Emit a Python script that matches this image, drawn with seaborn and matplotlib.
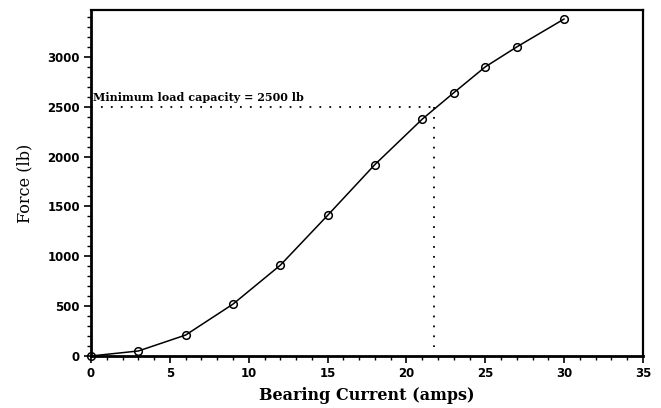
import matplotlib
matplotlib.use("Agg")
import matplotlib.pyplot as plt
import seaborn as sns
import pandas as pd
from matplotlib.ticker import MultipleLocator

current_amps = [0, 3, 6, 9, 12, 15, 18, 21, 23, 25, 27, 30]
force_lb = [0, 50, 210, 520, 910, 1410, 1920, 2375, 2640, 2900, 3100, 3380]
min_load = 2500
crossing_amps = 21.77
annotation = "Minimum load capacity = 2500 lb"

sns.set_theme(style="ticks")
plt.rcParams['font.family'] = ['DejaVu Serif']
plt.rcParams['text.color'] = 'black'
plt.rcParams['axes.labelcolor'] = 'black'
plt.rcParams['xtick.color'] = 'black'
plt.rcParams['ytick.color'] = 'black'

df = pd.DataFrame({"Bearing Current (amps)": current_amps, "Force (lb)": force_lb})

fig = plt.figure(figsize=(6.61, 4.08), dpi=100)
ax = fig.add_axes([0.1377, 0.1275, 0.9728 - 0.1377, 0.9755 - 0.1275])

sns.lineplot(data=df, x="Bearing Current (amps)", y="Force (lb)", ax=ax,
             color="black", linewidth=1.1, marker="o", markersize=5.5,
             markerfacecolor="none", markeredgecolor="black", markeredgewidth=1.1,
             clip_on=False, zorder=5)

ax.plot([0, crossing_amps], [min_load, min_load], linestyle=(0, (1, 4.5)), color="black", linewidth=1.3)
ax.plot([crossing_amps, crossing_amps], [min_load, 90], linestyle=(0, (1, 4.5)), color="black", linewidth=1.3)
ax.text(0.1, 2540, annotation, fontsize=8, fontweight="bold", ha="left", va="bottom",
        family="DejaVu Serif", color="black")

ax.set_xlim(0, 35)
ax.set_ylim(0, 3470)
ax.xaxis.set_major_locator(MultipleLocator(5))
ax.xaxis.set_minor_locator(MultipleLocator(1))
ax.yaxis.set_major_locator(MultipleLocator(500))
ax.yaxis.set_minor_locator(MultipleLocator(100))
ax.tick_params(which="major", length=5, width=1.2, color="black", labelsize=8.5, pad=3,
               labelcolor="black")
ax.tick_params(which="minor", length=3, width=1.0, color="black")
for lab in ax.get_xticklabels() + ax.get_yticklabels():
    lab.set_fontweight("bold")
    lab.set_family("DejaVu Sans")

for s in ["left", "bottom"]:
    ax.spines[s].set_linewidth(2.0)
for s in ["top", "right"]:
    ax.spines[s].set_linewidth(1.6)
for s in ax.spines.values():
    s.set_color("black")

ax.set_xlabel("Bearing Current (amps)", fontsize=11.5, fontweight="bold", labelpad=5, color="black")
ax.set_ylabel("Force (lb)", fontsize=11.5, labelpad=10, color="black")

fig.savefig("out.png", dpi=100)
